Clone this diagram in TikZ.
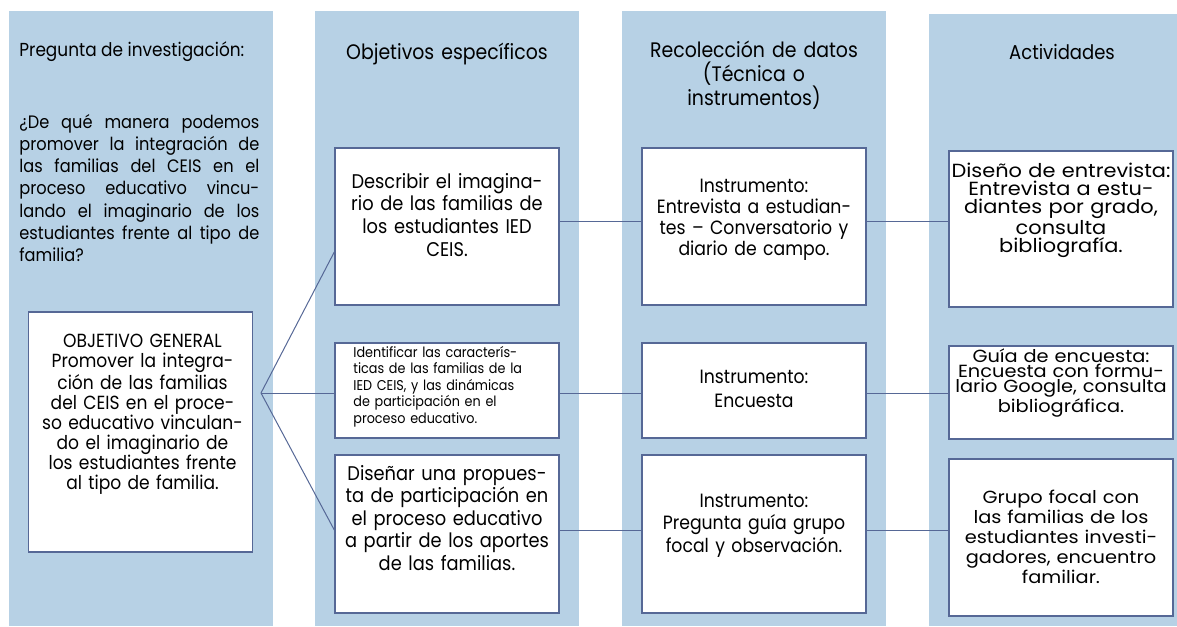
\documentclass[tikz,border=0pt]{standalone}
\usepackage{fontspec}
\setmainfont{Poppins}[FakeStretch=0.9]
\newfontfamily\widefont{Poppins}[FakeStretch=1.1]
\usetikzlibrary{positioning}
\definecolor{colfill}{RGB}{183,209,229}
\definecolor{linecol}{RGB}{86,104,150}
\newcommand{\setfs}[2]{\fontsize{#1}{#2}\selectfont}
\hyphenpenalty=10000

\begin{document}
\begin{tikzpicture}[
    x=0.5pt, y=-0.5pt,
    column/.style={fill=colfill, inner sep=0, minimum width=132pt, minimum height=307.5pt},
    box/.style={draw=linecol, line width=0.7pt, fill=white, inner sep=0, minimum width=112pt},
    title/.style={anchor=base, inner sep=0, text width=130pt, align=center, font=\setfs{10.5}{12}},
    txt/.style={anchor=base, inner sep=0, text width=110pt, align=center},
    link/.style={draw=linecol, line width=0.5pt}
]
\useasboundingbox (0,0) rectangle (1177,626);
% columns
\node[column] (pregunta) at (141,318.5) {};
\node[column] (objetivos) at (447,318.5) {};
\node[column] (recoleccion) at (754,318.5) {};
\node[column, minimum width=124pt, minimum height=306pt] (actividades) at (1053,320) {};
% headings
\node[anchor=base west, inner sep=0, font=\setfs{9.4}{11}] (pregtitle) at (19,57) {Pregunta de investigación:};
\node[title] (objtitle) at (447,60) {Objetivos específicos};
\node[title] (rectitle) at (754,58) {Recolección de datos\\(Técnica o\\instrumentos)};
\node[title, font=\setfs{10}{12}] (acttitle) at (1062,60) {Actividades};
\node[anchor=base west, inner sep=0, text width=120pt, align=justify, font=\setfs{9}{11.15}] (question) at (19,128)
  {¿De qué manera podemos\linebreak promover la integración de\linebreak las familias del CEIS en el\linebreak proceso educativo vincu-\linebreak lando el imaginario de los\linebreak estudiantes frente al tipo de\linebreak familia?};
% boxes
\node[box, minimum height=120pt] (general) at (140.5,432) {};
\node[box, minimum height=78.5pt] (obj1) at (447,226.5) {};
\node[box, minimum height=47.5pt] (obj2) at (447,390.5) {};
\node[box, minimum height=79pt] (obj3) at (447,534) {};
\node[box, minimum height=78.5pt] (inst1) at (754,226.5) {};
\node[box, minimum height=47.5pt] (inst2) at (754,390.5) {};
\node[box, minimum height=79pt] (inst3) at (754,534) {};
\node[box, minimum height=78pt] (act1) at (1061,229) {};
\node[box, minimum height=46.5pt] (act2) at (1061,392.5) {};
\node[box, minimum height=78.5pt] (act3) at (1061,537.5) {};
% box texts
\node[txt, font=\setfs{9.5}{10}] at (142.5,347) {OBJETIVO GENERAL\\Promover la integra-\\ción de las familias\\del CEIS en el proce-\\so educativo vinculan-\\do el imaginario de\\los estudiantes frente\\al tipo de familia.};
\node[txt, font=\setfs{9.9}{11.35}] at (447,188) {Describir el imagina-\\rio de las familias de\\los estudiantes IED\\CEIS.};
\node[txt, anchor=base west, align=left, font=\setfs{7.1}{8.25}] at (353,357) {Identificar las caracterís-\\ticas de las familias de la\\IED CEIS, y las dinámicas\\de participación en el\\proceso educativo.};
\node[txt, font=\setfs{9.9}{11.25}] at (447,480) {Diseñar una propues-\\ta de participación en\\el proceso educativo\\a partir de los aportes\\de las familias.};
\node[txt, font=\setfs{9.6}{10.5}] at (754,192) {Instrumento:\\Entrevista a estudian-\\tes -- Conversatorio y\\diario de campo.};
\node[txt, font=\setfs{9.6}{12}] at (754,383) {Instrumento:\\Encuesta};
\node[txt, font=\setfs{9.6}{11.25}] at (754,507) {Instrumento:\\Pregunta guía grupo\\focal y observación.};
\node[txt, font=\widefont\setfs{9.5}{9}] at (1061,177) {Diseño de entrevista:\\Entrevista a estu-\\diantes por grado,\\consulta\\bibliografía.};
\node[txt, font=\widefont\setfs{8.8}{7.6}] at (1061,362) {Guía de encuesta:\\Encuesta con formu-\\lario Google, consulta\\bibliográfica.};
\node[txt, font=\widefont\setfs{8.8}{10}] at (1061,503) {Grupo focal con\\las familias de los\\estudiantes investi-\\gadores, encuentro\\familiar.};
% connectors
\coordinate (fork) at (261,393);
\draw[link] (fork) -- ([yshift=-12.75pt]obj1.west);
\draw[link] (fork) -- (fork -| obj2.west);
\draw[link] (fork) -- ([yshift=2pt]obj3.west);
\draw[link] ([yshift=2.75pt]obj1.east) -- ([yshift=2.75pt]inst1.west);
\draw[link] ([yshift=-1.25pt]obj2.east) -- ([yshift=-1.25pt]inst2.west);
\draw[link] ([yshift=2pt]obj3.east) -- ([yshift=2pt]inst3.west);
\draw[link] ([yshift=2.75pt]inst1.east) -- ([yshift=2.75pt]inst1.east -| act1.west);
\draw[link] ([yshift=-1.25pt]inst2.east) -- ([yshift=-1.25pt]inst2.east -| act2.west);
\draw[link] ([yshift=2pt]inst3.east) -- ([yshift=2pt]inst3.east -| act3.west);
\end{tikzpicture}
\end{document}
